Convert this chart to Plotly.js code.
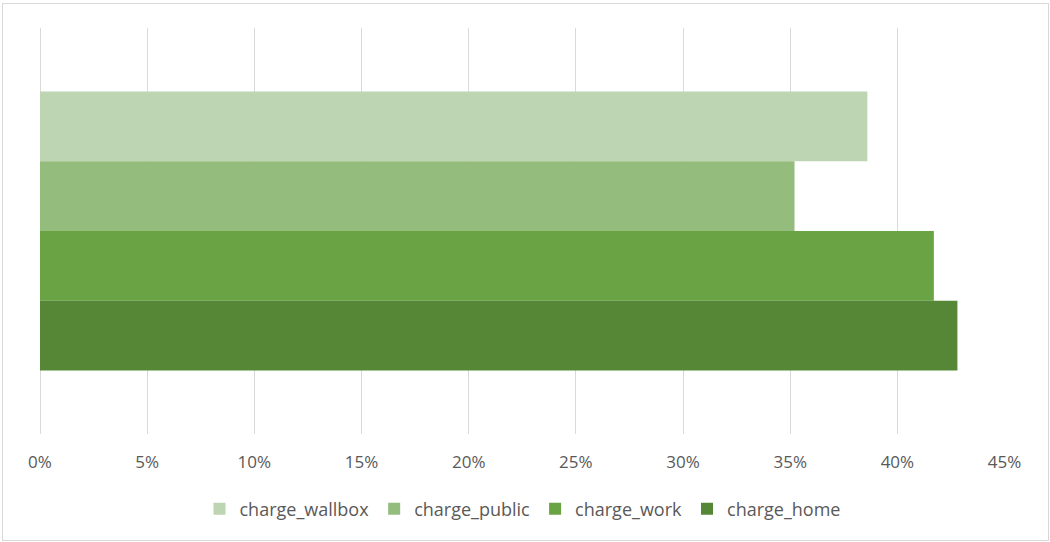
<!DOCTYPE html>
<html>
<head>
<meta charset="utf-8">
<script src="https://cdn.plot.ly/plotly-3.0.1.min.js"></script>
<style>
  html, body { margin: 0; padding: 0; background: #ffffff; }
  #wrap { position: relative; width: 1050px; height: 542px; }
  #chart { position: absolute; left: 0; top: 0; width: 1050px; height: 542px; }
  #frame { position: absolute; left: 2px; top: 3px; width: 1045px; height: 536px;
           border: 1px solid #d9d9d9; pointer-events: none; }
</style>
</head>
<body>
<div id="wrap">
  <div id="chart"></div>
  <div id="frame"></div>
</div>
<script>
// Data
const category = [''];
const seriesNames = ['charge_wallbox', 'charge_public', 'charge_work', 'charge_home'];
const charge_wallbox = [0.386];
const charge_public = [0.352];
const charge_work = [0.417];
const charge_home = [0.428];
const seriesValues = [charge_wallbox, charge_public, charge_work, charge_home];
const seriesColors = ['#bed5b3', '#94bc7c', '#6aa343', '#568737'];
const xTickVals = [0, 0.05, 0.10, 0.15, 0.20, 0.25, 0.30, 0.35, 0.40, 0.45];
const xTickText = ['0%', '5%', '10%', '15%', '20%', '25%', '30%', '35%', '40%', '45%'];

const FONT = '"Open Sans", "Segoe UI", "DejaVu Sans", sans-serif';

const traces = seriesNames.map((name, i) => ({
  type: 'bar',
  orientation: 'h',
  name: name,
  y: category,
  x: seriesValues[i],
  marker: { color: seriesColors[i], line: { width: 0 } },
  hoverinfo: 'x+name'
}));

const layout = {
  width: 1050,
  height: 542,
  margin: { l: 40, r: 45, t: 28, b: 108 },
  paper_bgcolor: 'rgba(0,0,0,0)',
  plot_bgcolor: 'rgba(0,0,0,0)',
  barmode: 'group',
  bargap: 0.313,
  bargroupgap: 0,
  font: { family: FONT, size: 17, color: '#595959' },
  xaxis: {
    range: [0, 0.4502],
    tickvals: xTickVals,
    ticktext: xTickText,
    showgrid: true,
    gridcolor: '#d9d9d9',
    gridwidth: 1,
    zeroline: true,
    zerolinecolor: '#d9d9d9',
    zerolinewidth: 1,
    showline: false,
    ticks: 'outside',
    ticklen: 13,
    tickcolor: 'rgba(0,0,0,0)',
    tickfont: { family: FONT, size: 17, color: '#595959' },
    fixedrange: true
  },
  yaxis: {
    type: 'category',
    autorange: 'reversed',
    showticklabels: false,
    showgrid: false,
    zeroline: false,
    showline: false,
    ticks: '',
    fixedrange: true
  },
  showlegend: true,
  legend: {
    orientation: 'h',
    x: 0.5,
    xanchor: 'center',
    y: -0.185,
    yanchor: 'middle',
    traceorder: 'normal',
    font: { family: FONT, size: 18, color: '#595959' },
    bgcolor: 'rgba(0,0,0,0)'
  }
};

Plotly.newPlot('chart', traces, layout, { displayModeBar: false, staticPlot: true });
</script>
</body>
</html>
